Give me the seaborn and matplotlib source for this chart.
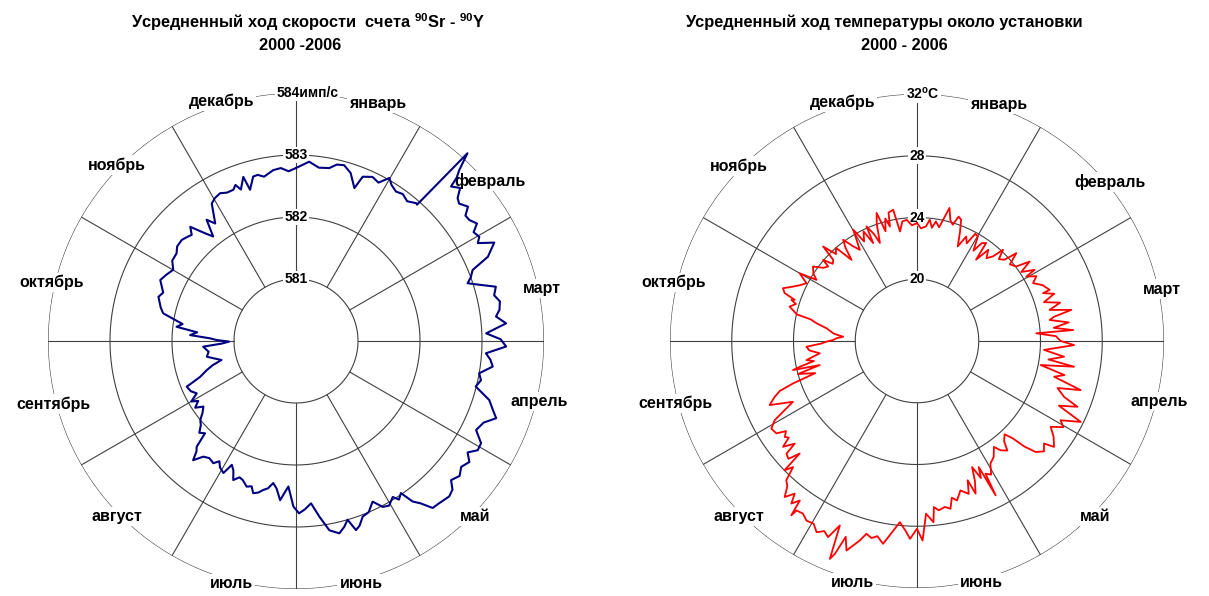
import numpy as np
import pandas as pd
import matplotlib
matplotlib.use("Agg")
import matplotlib.pyplot as plt
import seaborn as sns

# ---------------- data ----------------
months = ["январь", "февраль", "март", "апрель", "май", "июнь",
          "июль", "август", "сентябрь", "октябрь", "ноябрь", "декабрь"]

count_rings = [581, 582, 583, 584]
count_ring_labels = ["581", "582", "583", "584имп/с"]
temp_rings = [20, 24, 28, 32]
temp_ring_labels = ["20", "24", "28", "32$^{o}$C"]

# position in the annual cycle (degrees, 0 = 1 January) and averaged count rate, imp/s
count_pos = [0, 4.2, 7.5, 10.9, 13, 15.3, 18, 20.9, 22.1, 25, 27.5, 29.8, 31.5, 33.8, 36, 38.5,
             41.1, 41.6, 42.4, 43.7, 44.5, 45.1, 47, 48.5, 49.9, 52, 53.5, 55.1, 57, 58.5, 60.4,
             61.7, 63.6, 66.3, 68.1, 70, 71.4, 73, 74.8, 77, 79, 81.3, 83, 85.2, 87.7, 89.5, 91.5,
             93.7, 95.5, 97.4, 100, 102, 104.2, 107, 109, 111.1, 113.5, 116.3, 118.9, 121, 123,
             124.9, 127.3, 129.5, 131.9, 133.5, 135.4, 138.6, 140.7, 142.5, 144, 145.4, 147, 148.2,
             150.5, 152.4, 154.5, 157, 159.2, 161, 162.4, 163.9, 165.5, 167.3, 170, 172.4, 174.7,
             177, 179, 180.9, 183, 185.7, 187.5, 189.1, 190.8, 192.4, 194, 195.7, 197, 198.7, 201,
             202.5, 204.3, 205.8, 207.4, 208.8, 211, 212.5, 214.1, 216.5, 218.7, 220.8, 222, 223.2,
             224.6, 226.5, 228.5, 230.5, 232.5, 234.7, 236.5, 238.5, 240, 242.2, 244.5, 247.3,
             249.5, 252, 253.8, 255.7, 258, 260, 263, 266.5, 268, 269.5, 270.7, 271.8, 273.2, 275,
             276.8, 278.5, 281.8, 284, 287.8, 290, 294.2, 297, 300.1, 303, 306.3, 308.5, 311.5,
             313.6, 315.5, 317.2, 319.5, 321.6, 323.6, 325.5, 327.1, 328.5, 330.4, 332.8, 335,
             337.5, 338.8, 340, 342.2, 343.1, 345.4, 347, 349, 352.4, 355, 357.5, 360]
count_val = [582.79, 582.90, 582.82, 582.84, 582.92, 582.94, 582.85, 582.64, 582.86, 582.92,
             582.88, 583.03, 582.95, 582.90, 582.93, 582.88, 582.95, 582.94, 584.10, 583.81,
             583.70, 583.53, 583.62, 583.48, 583.44, 583.52, 583.40, 583.41, 583.48, 583.36,
             583.40, 583.33, 583.57, 583.38, 583.07, 583.00, 582.92, 583.10, 583.34, 583.28,
             583.35, 583.32, 583.25, 583.40, 583.07, 583.30, 583.39, 583.07, 583.15, 583.20,
             583.00, 583.05, 582.99, 583.26, 583.35, 583.46, 583.30, 583.24, 583.41, 583.42,
             583.30, 583.41, 583.35, 583.42, 583.36, 583.48, 583.52, 583.49, 583.48, 583.30,
             583.20, 582.98, 583.05, 582.96, 583.05, 583.02, 582.87, 583.00, 583.03, 583.15,
             583.20, 583.00, 583.10, 583.18, 583.10, 582.86, 582.63, 582.72, 582.78, 582.67,
             582.35, 582.58, 582.40, 582.32, 582.42, 582.46, 582.52, 582.55, 582.45, 582.48,
             582.40, 582.38, 582.46, 582.32, 582.25, 582.43, 582.38, 582.30, 582.38, 582.35,
             582.39, 582.54, 582.40, 582.34, 582.09, 582.15, 582.05, 582.00, 581.90, 581.83,
             581.95, 581.85, 581.95, 581.81, 581.88, 581.91, 581.65, 581.51, 581.40, 581.24,
             581.35, 581.46, 581.42, 581.50, 581.20, 581.08, 581.28, 581.39, 581.71, 581.60,
             581.94, 581.85, 582.19, 582.25, 582.33, 582.28, 582.40, 582.35, 582.29, 582.38,
             582.39, 582.45, 582.46, 582.43, 582.40, 582.51, 582.30, 582.15, 582.43, 582.30,
             582.45, 582.60, 582.65, 582.68, 582.64, 582.64, 582.70, 582.60, 582.78, 582.55,
             582.74, 582.75, 582.70, 582.78, 582.80, 582.74, 582.79]

# position in the annual cycle (degrees) and averaged temperature near the setup, deg C
temp_pos = [0, 2, 4.5, 6, 7.5, 9, 11, 13.7, 15.5, 17.1, 18.5, 20, 21.5, 23.3, 25.2, 27, 28.5,
            30.2, 32, 33.5, 35.2, 36, 38, 40, 41.9, 43.3, 45, 47.1, 48.5, 50.5, 53.1, 54.8, 56.5,
            58.8, 59.5, 61.5, 63.5, 66, 68.9, 69.2, 71, 73, 75, 76.8, 78.6, 80, 81, 83, 84.5, 86,
            86.3, 88, 90, 91.5, 94, 96.1, 98, 99.3, 101, 103, 104.6, 106.7, 108.5, 110.8, 112.3,
            114.5, 116.3, 118.9, 120.5, 122.7, 125, 127.7, 128.9, 131, 133.1, 134.5, 135.5, 136.8,
            139, 140.5, 142.6, 144, 146.5, 149.1, 151, 152.7, 153, 153.9, 155, 156.4, 157.5, 159,
            160, 161.3, 163.8, 165.9, 167.5, 168.7, 170.5, 172.7, 174.2, 174.8, 177, 178.4, 180,
            182, 183.5, 185.4, 187.1, 189.5, 191.5, 193, 194.7, 196, 198.6, 200, 201.1, 201.8,
            202.7, 204.4, 206, 207.7, 209.5, 211.6, 213.5, 215.4, 215.8, 216.3, 217.7, 218.7,
            220.3, 221.8, 223.2, 224.5, 225.7, 226.2, 227.5, 229.2, 230, 231.7, 233, 234, 235.5,
            236.7, 239, 240.9, 243.9, 246.5, 248.6, 250, 251.1, 252.5, 254.5, 256.1, 256.8, 257.6,
            259, 260.2, 262.8, 265, 267, 268.5, 269.6, 270.7, 272, 273.3, 275, 278, 280, 281.5,
            282.5, 285.1, 287, 288.1, 288.6, 289.9, 291.5, 293.7, 295.5, 297.6, 300, 301.3, 303,
            305.6, 308, 310, 310.8, 312.5, 314.1, 315.2, 317, 319, 321.1, 322.5, 323.9, 326, 327.9,
            330.2, 332, 334, 335.9, 336.2, 338, 339.3, 341, 342.5, 344, 345.5, 346.7, 347.5, 349.7,
            351.2, 353, 355.1, 357.5, 360]
temp_val = [23.64, 23.30, 23.45, 23.90, 23.40, 23.84, 23.50, 24.87, 24.10, 23.88, 24.50, 24.36,
            23.60, 22.67, 23.48, 23.10, 23.90, 23.84, 22.90, 23.60, 23.77, 22.51, 23.50, 23.00,
            23.36, 24.12, 23.50, 23.73, 24.59, 23.80, 24.04, 24.93, 24.10, 24.90, 24.22, 24.80,
            24.40, 24.90, 25.21, 24.73, 25.40, 24.60, 25.60, 24.82, 26.20, 25.00, 24.70, 25.90,
            24.90, 26.14, 23.74, 25.00, 25.31, 26.18, 24.25, 25.58, 24.60, 26.31, 24.16, 25.80,
            25.18, 27.07, 25.60, 26.19, 27.23, 26.10, 27.83, 26.62, 27.00, 26.29, 26.80, 27.22,
            26.57, 26.90, 26.52, 25.75, 24.83, 24.29, 24.60, 25.20, 24.91, 24.48, 25.00, 25.26,
            25.90, 25.67, 27.22, 25.09, 25.80, 24.91, 25.80, 26.59, 25.60, 26.45, 26.08, 26.65,
            26.40, 27.08, 26.90, 27.06, 26.81, 27.79, 27.20, 28.93, 28.16, 28.82, 28.30, 27.79,
            28.37, 29.32, 28.90, 29.10, 28.91, 29.44, 30.32, 29.50, 30.78, 31.20, 28.95, 29.95,
            29.70, 29.99, 29.60, 29.66, 29.40, 29.47, 29.92, 28.82, 29.31, 28.67, 29.25, 28.60,
            28.37, 27.45, 27.99, 26.53, 27.30, 27.17, 26.34, 27.06, 26.40, 26.58, 26.30, 26.90,
            27.01, 26.55, 24.95, 26.41, 25.90, 25.45, 24.49, 22.91, 24.00, 22.49, 24.25, 23.78,
            22.80, 23.27, 22.35, 23.00, 23.17, 22.20, 21.86, 21.43, 21.20, 20.79, 21.40, 21.92,
            22.60, 23.03, 23.97, 24.55, 24.20, 24.56, 24.36, 25.12, 25.33, 24.77, 24.40, 24.08,
            24.78, 23.62, 24.00, 24.29, 23.70, 23.51, 24.04, 23.40, 23.56, 24.63, 23.70, 24.00,
            22.75, 23.60, 24.12, 23.40, 22.97, 24.31, 23.30, 23.90, 22.95, 24.11, 23.50, 22.79,
            24.00, 24.70, 23.40, 24.20, 23.62, 24.52, 24.64, 23.18, 23.80, 23.88, 23.50, 23.64]

title_left = "Усредненный ход скорости  счета $^{90}$Sr - $^{90}$Y"
title_right = "Усредненный ход температуры около установки"
period_left = "2000 -2006"
period_right = "2000 - 2006"

# ---------------- style ----------------
sns.set_style("white")
plt.rcParams["font.family"] = ["Liberation Sans", "DejaVu Sans"]
plt.rcParams["mathtext.default"] = "regular"
plt.rcParams["text.color"] = "black"

GRID = "#404040"
month_label_deg = [19, 50.5, 78, 104, 134.5, 165, 195, 225.5, 255.5, 283.5, 314.5, 342.7]

W, H = 1209, 596
fig = plt.figure(figsize=(W / 100, H / 100), dpi=100)


def polar_panel(cx, cy, rad, pos, val, rings, ring_labels, color, lw, top_dx):
    ax = fig.add_axes([(cx - rad) / W, (H - cy - rad) / H, 2 * rad / W, 2 * rad / H],
                      projection="polar")
    step = rings[1] - rings[0]
    r0 = rings[0] - step
    rmax = rings[-1]
    df = pd.DataFrame({"theta": np.deg2rad(pos), "value": val})
    sns.lineplot(data=df, x="theta", y="value", ax=ax, sort=False, estimator=None,
                 color=color, lw=lw, zorder=6)
    ax.get_lines()[-1].set_clip_on(False)
    ax.set_theta_zero_location("N")
    ax.set_theta_direction(-1)
    ax.set_ylim(r0, rmax)
    ax.grid(False)
    ax.set_xticks([])
    ax.set_yticks([])
    ax.set_xlabel("")
    ax.set_ylabel("")
    ax.spines["polar"].set_visible(False)
    ax.patch.set_alpha(0)

    full = np.linspace(0, 2 * np.pi, 721)
    for v in rings:
        ax.plot(full, np.full_like(full, v), color=GRID, lw=0.8, zorder=1)
    for k in range(12):
        t = np.deg2rad(30 * k)
        ax.plot([t, t], [rings[0], rmax], color=GRID, lw=0.8, zorder=1)

    r_lab = rmax + 0.012 * (rmax - r0)
    for m, a in zip(months, month_label_deg):
        ax.text(np.deg2rad(a), r_lab, m, ha="center", va="center", fontsize=11.5,
                fontweight="bold", color="black", zorder=5, clip_on=False,
                bbox=dict(fc="white", ec="none", pad=1.5))
    for i, (v, lab) in enumerate(zip(rings, ring_labels)):
        dx = top_dx if i == len(rings) - 1 else 0
        ax.annotate(lab, xy=(0, v), xytext=(dx, 0), textcoords="offset points",
                    ha="center", va="center", fontsize=10, fontweight="bold",
                    color="black", zorder=5, annotation_clip=False,
                    bbox=dict(fc="white", ec="none", pad=1.0))
    return ax


polar_panel(296, 341, 248, count_pos, count_val, count_rings, count_ring_labels,
            "#000080", 1.5, 8)
polar_panel(917, 341, 247, temp_pos, temp_val, temp_rings, temp_ring_labels,
            "#ff0000", 1.3, 4)

fig.text(308 / W, 1 - 22 / H, title_left, ha="center", va="center", fontsize=11.8,
         fontweight="bold")
fig.text(300 / W, 1 - 45 / H, period_left, ha="center", va="center", fontsize=11.8,
         fontweight="bold")
fig.text(884 / W, 1 - 22 / H, title_right, ha="center", va="center", fontsize=11.8,
         fontweight="bold")
fig.text(904 / W, 1 - 45 / H, period_right, ha="center", va="center", fontsize=11.8,
         fontweight="bold")

fig.savefig("out.png", dpi=100, facecolor="white")
